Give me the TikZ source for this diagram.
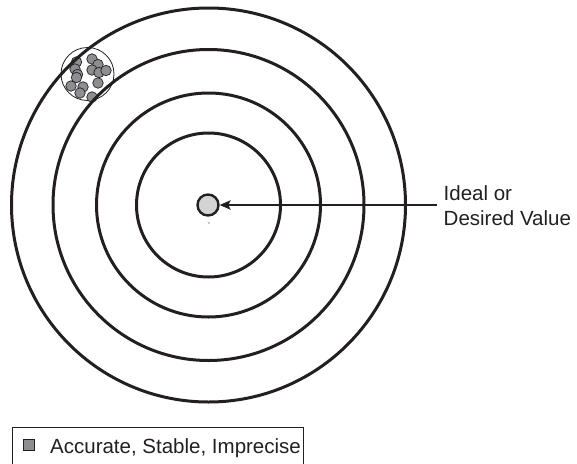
\documentclass[tikz,border=0pt]{standalone}
\usepackage{fontspec}
\setmainfont{Liberation Sans}
\usetikzlibrary{arrows.meta,positioning}
\definecolor{TgtInk}{RGB}{35,31,32}
\definecolor{TgtDot}{RGB}{140,142,145}
\definecolor{TgtCenter}{RGB}{209,211,212}
\definecolor{TgtSpeck}{RGB}{150,150,150}
\tikzset{
  tgt/ring/.style={
    circle,
    draw=TgtInk,
    line width=3pt,
    inner sep=0pt
  },
  tgt/ideal/.style={
    circle,
    draw=TgtInk,
    line width=2.4pt,
    fill=TgtCenter,
    inner sep=0pt,
    minimum size=21pt
  },
  tgt/group/.style={
    circle,
    draw=TgtInk,
    line width=0.8pt,
    inner sep=0pt,
    minimum size=53pt
  },
  tgt/shot/.style={
    circle,
    draw=TgtInk,
    line width=0.7pt,
    fill=TgtDot,
    inner sep=0pt,
    minimum size=10.5pt
  },
  tgt/speck/.style={circle, fill=TgtSpeck, inner sep=0pt, minimum size=1.6pt},
  tgt/label/.style={
    font=\fontsize{20.5pt}{25.7pt}\selectfont,
    text=TgtInk,
    align=left,
    inner sep=0pt
  },
  tgt/legend/.style={
    draw=TgtInk,
    line width=0.8pt,
    inner sep=0pt,
    minimum width=291pt,
    minimum height=37pt
  },
  tgt/key/.style={draw=TgtInk, line width=0.8pt, fill=TgtDot, inner sep=0pt, minimum size=11pt},
  tgt/arrow/.style={-{Stealth[length=11pt,width=9.5pt,inset=2.5pt]}, line width=1.3pt, draw=TgtInk}
}
\begin{document}
\begin{tikzpicture}[x=1pt,y=-1pt]
  \useasboundingbox (0,0) rectangle (577,463);
  \node[tgt/group] (group) at (87.5,74) {};
  \foreach \px/\py [count=\i] in {76.5/62, 75/69, 77.5/74.5, 76.5/77.5, 92/59, 98/64.5,
      92/70, 99/72.5, 106/70.5, 98/83, 71/86, 83/87, 80/93, 92/97}
    \node[tgt/shot] (shot\i) at (\px,\py) {};
  \node[tgt/ring,minimum size=394pt] (ring1) at (208.5,205) {};
  \node[tgt/ring,minimum size=311pt] (ring2) at (208.5,205) {};
  \node[tgt/ring,minimum size=224pt] (ring3) at (208.5,205) {};
  \node[tgt/ring,minimum size=144pt] (ring4) at (208.5,205) {};
  \node[tgt/ideal] (ideal) at (208,205) {};
  \node[tgt/speck] (speck) at (209,223) {};
  \node[tgt/label,anchor=north west] (lbl) at (443.5,185) {Ideal or\\Desired Value};
  \coordinate (tail) at (437,205);
  \draw[tgt/arrow] (tail) -- (ideal);
  \node[tgt/legend,anchor=north west] (legend) at (12,427) {};
  \node[tgt/key] (key) at (28.5,445) {};
  \node[tgt/label,anchor=base west] (keytext) at (50,453.3) {Accurate, Stable, Imprecise};
\end{tikzpicture}
\end{document}
